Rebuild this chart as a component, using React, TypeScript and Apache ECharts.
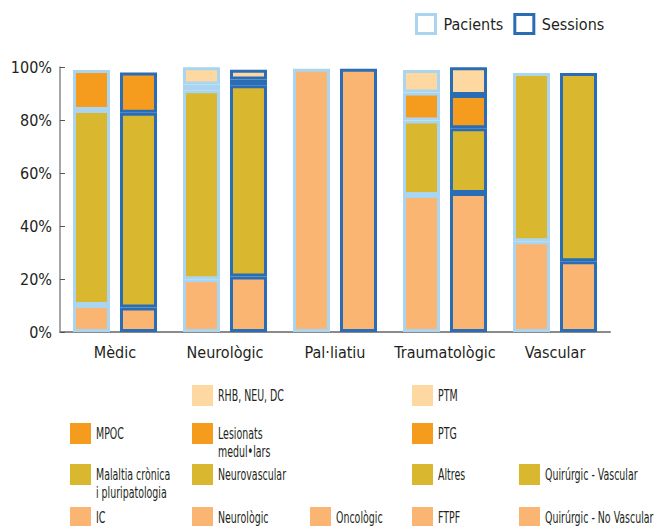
import React, { useEffect, useRef } from "react";
import * as echarts from "echarts";

const categories = ["Mèdic", "Neurològic", "Pal·liatiu", "Traumatològic", "Vascular"];
const groupNames = ["Pacients", "Sessions"];
const yTicks = [0, 20, 40, 60, 80, 100];

// sub-categories (bottom -> top within each category)
const subNames = [
  "IC",
  "Malaltia crònica\ni pluripatologia",
  "MPOC",
  "Neurològic",
  "Neurovascular",
  "Lesionats\nmedul•lars",
  "RHB, NEU, DC",
  "Oncològic",
  "FTPF",
  "Altres",
  "PTG",
  "PTM",
  "Quirúrgic - No Vascular",
  "Quirúrgic - Vascular",
];
const subCategory = [0, 0, 0, 1, 1, 1, 1, 2, 3, 3, 3, 3, 4, 4];
const subLevel = [0, 1, 2, 0, 1, 2, 3, 0, 0, 1, 2, 3, 0, 1];
const pacientsPct = [10.2, 73.6, 15.1, 19.9, 71.3, 2.2, 6.5, 99.3, 51.7, 28.1, 10.6, 8.5, 34.2, 63.5];
const sessionsPct = [9.2, 73.5, 15.2, 20.9, 72.2, 2.2, 3.7, 99.3, 52.5, 24.4, 12.5, 10.5, 26.7, 71.0];

const levelColors = ["#FBB573", "#D9B72E", "#F59C1F", "#FDD8A1"];
const groupBorders = ["#A9D5F0", "#2A6DB4"];

// bottom key layout (icon left / top) for each sub-category
const legendPos: [number, number][] = [
  [70, 507],
  [70, 464],
  [70, 423],
  [192, 507],
  [192, 464],
  [192, 423],
  [192, 385],
  [310, 507],
  [412, 507],
  [412, 464],
  [412, 423],
  [412, 385],
  [519, 507],
  [519, 464],
];

const FONT = "'DejaVu Sans Condensed', 'Liberation Sans Narrow', sans-serif";
const TEXT = "#231F20";

export default function App() {
  const ref = useRef<HTMLDivElement>(null);
  useEffect(() => {
    if (!ref.current) return;
    const chart = echarts.init(ref.current, undefined, { renderer: "svg" });

    const order = subNames.map((_, i) => i).sort((a, b) => subLevel[a] - subLevel[b]);
    const series: any[] = [];
    groupNames.forEach((g, gi) => {
      series.push({
        name: g,
        type: "bar",
        stack: g,
        barWidth: 37,
        barGap: "27%",
        data: [],
        itemStyle: { color: "#ffffff", borderColor: groupBorders[gi], borderWidth: 3 },
      });
    });
    groupNames.forEach((g, gi) => {
      const vals = gi === 0 ? pacientsPct : sessionsPct;
      order.forEach((i) => {
        series.push({
          name: subNames[i],
          type: "bar",
          stack: g,
          barWidth: 37,
          barGap: "27%",
          data: categories.map((_, c) => (c === subCategory[i] ? vals[i] : "-")),
          itemStyle: {
            color: levelColors[subLevel[i]],
            borderColor: groupBorders[gi],
            borderWidth: 3,
          },
        });
      });
    });

    // bottom key drawn as graphic (condensed text)
    const graphics: any[] = [];
    subNames.forEach((n, i) => {
      const [lx, ly] = legendPos[i];
      const twoLine = n.indexOf("\n") >= 0;
      graphics.push({
        type: "rect",
        x: lx,
        y: ly,
        shape: { x: 0, y: 0, width: 21, height: 21 },
        style: { fill: levelColors[subLevel[i]] },
        silent: true,
      });
      graphics.push({
        type: "text",
        x: lx + 26,
        y: twoLine ? ly + 1.5 : ly + 10.5,
        scaleX: 0.7,
        silent: true,
        style: {
          text: n,
          fill: TEXT,
          fontFamily: FONT,
          fontSize: 15,
          lineHeight: 18,
          verticalAlign: twoLine ? "top" : "middle",
        },
      });
    });

    chart.setOption({
      animation: false,
      textStyle: { fontFamily: FONT },
      grid: { left: 60, right: 48, top: 67, bottom: 194 },
      legend: {
        left: 415,
        top: 13,
        padding: 0,
        icon: "rect",
        itemWidth: 19,
        itemHeight: 19,
        itemGap: 10,
        data: groupNames,
        itemStyle: { borderWidth: 3 },
        textStyle: { fontFamily: FONT, fontSize: 16, color: TEXT, padding: [0, 0, 0, 3] },
      },
      graphic: graphics,
      xAxis: {
        type: "category",
        data: categories,
        axisLine: { lineStyle: { color: "#8A8A8A", width: 2 } },
        axisTick: { show: false },
        axisLabel: { interval: 0, fontFamily: FONT, fontSize: 16, color: TEXT, margin: 12 },
      },
      yAxis: {
        type: "value",
        min: yTicks[0],
        max: yTicks[yTicks.length - 1],
        interval: yTicks[1] - yTicks[0],
        axisLine: { show: true, lineStyle: { color: "#8A8A8A", width: 1.5 } },
        axisTick: { show: true, inside: true, length: 5, lineStyle: { color: "#555" } },
        splitLine: { show: false },
        axisLabel: { fontFamily: FONT, fontSize: 16, color: TEXT, margin: 8, formatter: "{value}%" },
      },
      series,
    });
    return () => chart.dispose();
  }, []);
  return (
    <div
      ref={ref}
      style={{ position: "fixed", left: 0, top: 0, width: 658, height: 526, background: "#fff" }}
    />
  );
}
